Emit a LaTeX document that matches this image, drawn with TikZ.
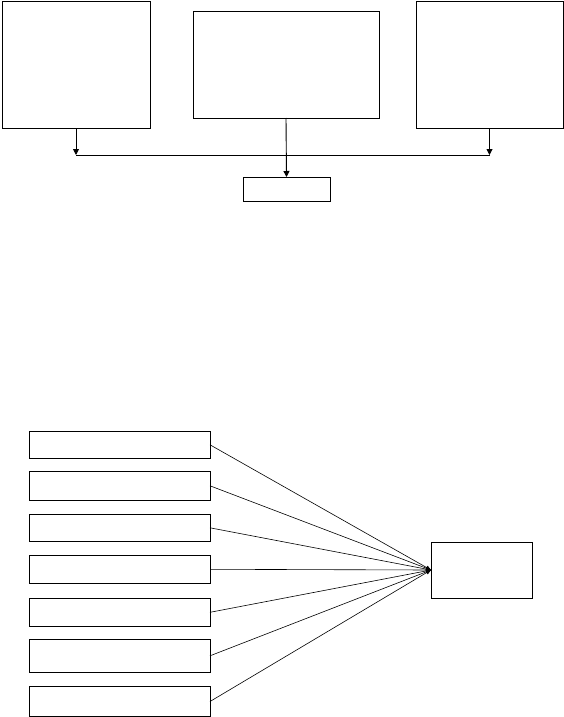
\documentclass[tikz,border=0pt]{standalone}
\usepackage{tikz}
\usetikzlibrary{arrows.meta,positioning}
\usepackage{xcolor}
\definecolor{dark}{HTML}{000000}
\tikzset{
  box/.style={draw=dark, line width=0.9pt, inner sep=0pt, outer sep=0pt, fill=white},
  arrow/.style={-{Triangle[length=6pt, width=6pt]}, line width=0.9pt, draw=dark},
  feed/.style={-{Triangle[length=5pt, width=4pt]}, line width=0.6pt, draw=dark}
}

\begin{document}
\begin{tikzpicture}[x=1pt, y=-1pt]
  \useasboundingbox (0,0) rectangle (564,717);

  % top row of three boxes
  \node[box, minimum width=148pt, minimum height=127pt] (left) at (76,64.5) {};
  \node[box, minimum width=186pt, minimum height=107pt] (mid) at (286,64.5) {};
  \node[box, minimum width=147pt, minimum height=127pt] (right) at (489.5,64.5) {};
  \node[box, minimum width=87pt, minimum height=24pt] (sink) at (286.5,189) {};

  % joining line below the top row
  \coordinate (jleft) at (76,155);
  \coordinate (jright) at (489.5,155);
  \draw[line width=0.9pt, draw=dark] (jleft) -- (jright);
  \draw[arrow] (left.south) -- (jleft);
  \draw[arrow] (right.south) -- (jright);
  \draw[arrow] (mid.south) -- (sink.north);

  % lower group: seven boxes feeding one
  \node[box, minimum width=181pt, minimum height=27pt] (in1) at (119.5,444.8) {};
  \node[box, minimum width=181pt, minimum height=29pt] (in2) at (119.5,485.8) {};
  \node[box, minimum width=181pt, minimum height=27pt] (in3) at (119.5,527.8) {};
  \node[box, minimum width=181pt, minimum height=28pt] (in4) at (119.5,569.3) {};
  \node[box, minimum width=181pt, minimum height=28pt] (in5) at (119.5,612.3) {};
  \node[box, minimum width=181pt, minimum height=33pt] (in6) at (119.5,655.8) {};
  \node[box, minimum width=181pt, minimum height=30pt] (in7) at (119.5,701.5) {};
  \node[box, minimum width=101pt, minimum height=56pt] (target) at (481.5,570) {};

  % converging lines
  \draw[feed] (in1.east) -- (target.west);
  \draw[feed] (in2.east) -- (target.west);
  \draw[feed] (in3.east) -- (target.west);
  \draw[feed] (in4.east) -- (target.west);
  \draw[feed] (in5.east) -- (target.west);
  \draw[feed] (in6.east) -- (target.west);
  \draw[feed] (in7.east) -- (target.west);
\end{tikzpicture}
\end{document}
